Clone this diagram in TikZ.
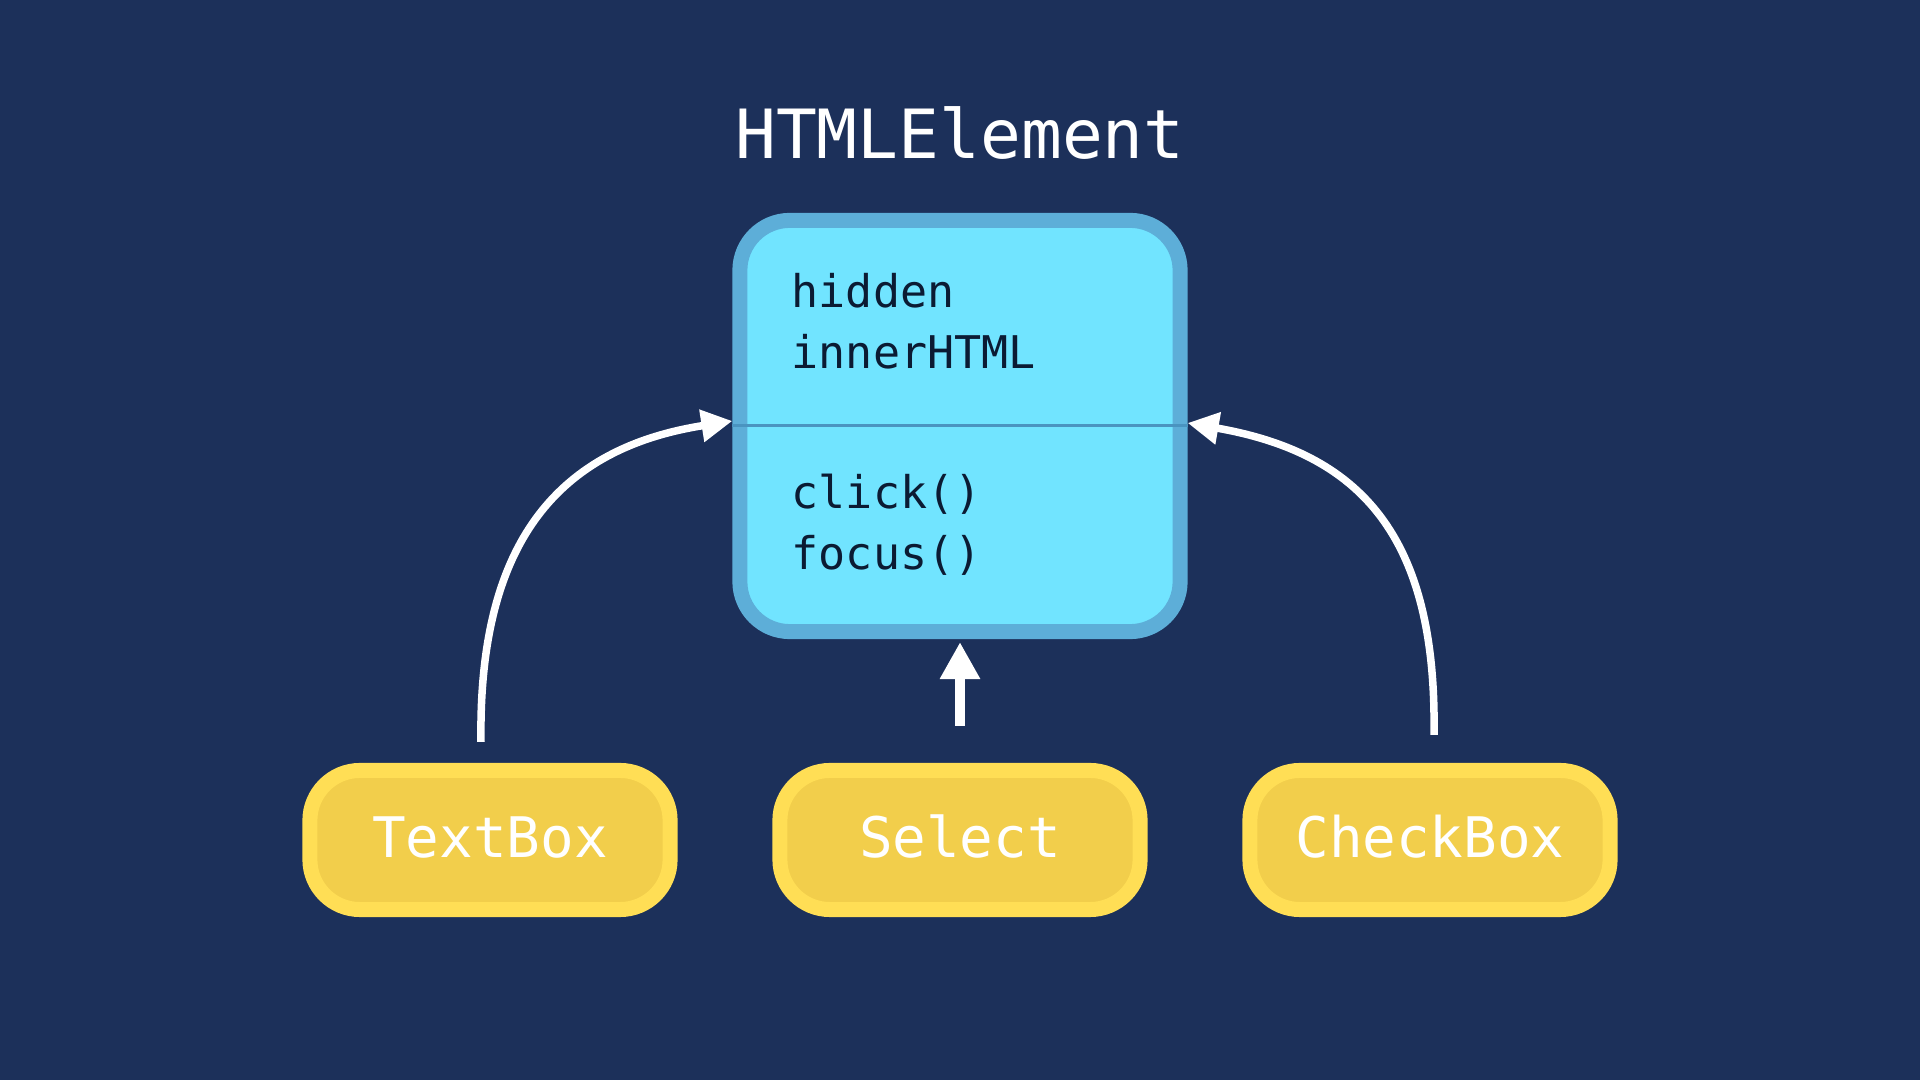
\documentclass[tikz,border=0pt]{standalone}
\usepackage{fontspec}
\setmonofont{DejaVu Sans Mono}
\usetikzlibrary{arrows.meta}

\definecolor{bgblue}{HTML}{1C305A}
\definecolor{classfill}{HTML}{71E4FF}
\definecolor{classedge}{HTML}{5DAED8}
\definecolor{divline}{HTML}{4A94C0}
\definecolor{subfill}{HTML}{F2CE4B}
\definecolor{subedge}{HTML}{FFDE55}
\definecolor{membertext}{HTML}{0B1B33}

\begin{document}
\begin{tikzpicture}[x=0.01cm, y=-0.01cm,
    classbox/.style={draw=classedge, fill=classfill, line width=0.15cm, rounded corners=0.5cm,
        minimum width=4.40cm, minimum height=4.11cm, inner sep=0pt},
    subbox/.style={draw=subedge, fill=subfill, line width=0.15cm, rounded corners=0.5cm,
        minimum width=3.60cm, minimum height=1.39cm, inner sep=0pt, text=white,
        font=\ttfamily\fontsize{15.9}{19}\selectfont, text height=11.6pt, text depth=1.6pt},
    member/.style={anchor=base west, inner sep=0pt, text=membertext,
        font=\ttfamily\fontsize{12.8}{15}\selectfont},
    inherit/.style={draw=white, line width=0.075cm, -{Triangle[length=0.31cm, width=0.31cm]}},
    ]

    % Background (fixes the page size)
    \fill[bgblue] (0,0) rectangle (1920,1080);

    % Spacing of the subclasses
    \def\subsep{470}   % horizontal distance between subclasses
    \def\rowsep{61}    % distance between member lines

    % Base class
    \node[anchor=base, inner sep=0pt, text=white, font=\ttfamily\fontsize{19.3}{23}\selectfont]
        (title) at (960,159) {HTMLElement};
    \node[classbox] (cls) at (960,426) {};
    \draw[divline, line width=0.03cm] (cls.west) -- (cls.east);

    % Fields and methods
    \foreach \txt [count=\i] in {hidden, innerHTML}
        \node[member] (field-\i) at (791,{308+(\i-1)*\rowsep}) {\txt};
    \foreach \txt [count=\i] in {click(), focus()}
        \node[member] (method-\i) at (791,{509+(\i-1)*\rowsep}) {\txt};

    % Subclasses
    \node[subbox] (tb) at (960-\subsep,840) {TextBox};
    \node[subbox] (sel) at (960,840) {Select};
    \node[subbox] (cb) at (960+\subsep,840) {CheckBox};

    % Inheritance arrows
    \draw[inherit] ([xshift=-0.09cm, yshift=0.21cm]tb.north)
        .. controls +(-3,-202) and +(-172,27) .. ([yshift=0.05cm]cls.west);
    \draw[inherit] ([xshift=0.04cm, yshift=0.28cm]cb.north)
        .. controls +(3,-200) and +(172,30) .. ([yshift=0.03cm]cls.east);
    \draw[draw=white, line width=0.10cm, -{Triangle[length=0.37cm, width=0.38cm]}]
        ([yshift=0.37cm]sel.north) -- ([yshift=-0.03cm]cls.south);

\end{tikzpicture}
\end{document}
